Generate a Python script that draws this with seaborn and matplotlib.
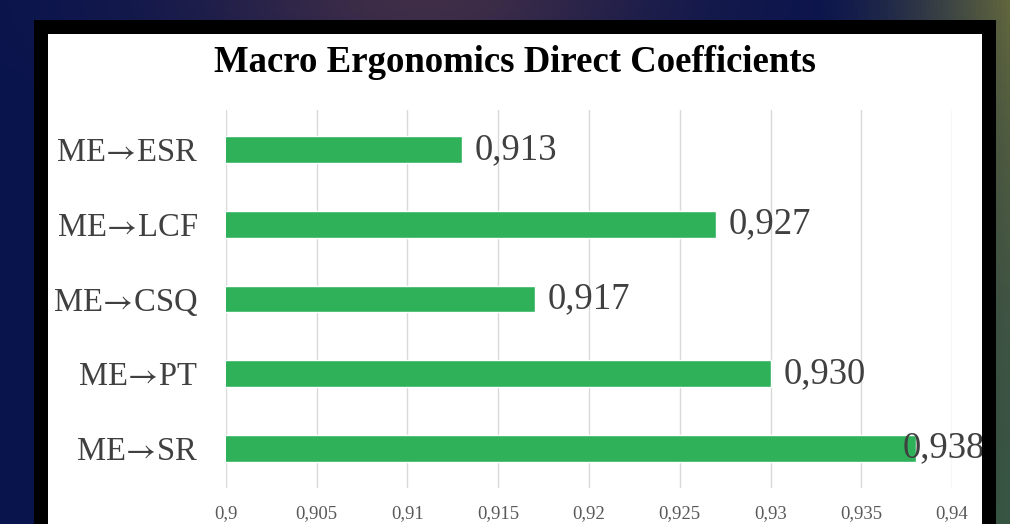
import numpy as np
import pandas as pd
import matplotlib
matplotlib.use("Agg")
import matplotlib.pyplot as plt
from matplotlib.patches import Rectangle
from matplotlib.ticker import FuncFormatter, MultipleLocator
from matplotlib.transforms import Bbox, TransformedBbox
import seaborn as sns

# Direct path coefficients of macro ergonomics
paths = ["ME→ESR", "ME→LCF", "ME→CSQ", "ME→PT", "ME→SR"]
coefficients = [0.913, 0.927, 0.917, 0.930, 0.938]
value_labels = ["0,913", "0,927", "0,917", "0,930", "0,938"]

sns.set_theme(style="white")
plt.rcParams["font.family"] = ["Liberation Serif", "DejaVu Serif"]
plt.rcParams["mathtext.fontset"] = "stix"

W, H = 1010, 524
fig = plt.figure(figsize=(W / 100, H / 100), dpi=100)

# Dark backdrop with a soft colour wash
bg = fig.add_axes([0, 0, 1, 1])
bg.set_axis_off()
yy, xx = np.mgrid[0:1:120j, 0:1:240j]
navy = np.array([0.04, 0.08, 0.30])
plum = np.array([0.25, 0.18, 0.28])
olive = np.array([0.38, 0.40, 0.24])
green = np.array([0.22, 0.36, 0.26])
w_plum = np.exp(-((xx - 0.42) ** 2) / 0.05 - (yy ** 2) / 0.02)
w_olive = np.clip((xx - 0.80) / 0.2, 0, 1) ** 1.5 * (1 - 0.5 * yy)
w_green = np.clip((xx - 0.86) / 0.14, 0, 1) * yy
img = navy[None, None, :] * np.ones_like(xx)[..., None]
img = img * (1 - w_plum[..., None]) + plum * w_plum[..., None]
img = img * (1 - w_olive[..., None]) + olive * w_olive[..., None]
img = img * (1 - 0.8 * w_green[..., None]) + green * 0.8 * w_green[..., None]
bg.imshow(np.clip(img, 0, 1), extent=[0, 1, 0, 1], aspect="auto", origin="upper")
bg.set_xlim(0, 1)
bg.set_ylim(0, 1)

# Black frame and white chart area
bg.add_patch(Rectangle((34 / W, 0), (996 - 34) / W, 1 - 20 / H,
                       facecolor="black", edgecolor="none", zorder=2))
bg.add_patch(Rectangle((48 / W, 0), (982 - 48) / W, 1 - 34 / H,
                       facecolor="white", edgecolor="none", zorder=3))
white_area = TransformedBbox(Bbox([[48 / W, 0], [982 / W, 1 - 34 / H]]),
                             fig.transFigure)

fig.text(515 / W, 1 - 62 / H, "Macro Ergonomics Direct Coefficients",
         ha="center", va="center", fontsize=26.5, fontweight="bold",
         color="black", family=["Liberation Serif"])

# Bar chart
left, right = 226 / W, 952 / W
top, bottom = 1 - 110 / H, 1 - 488 / H
ax = fig.add_axes([left, bottom, right - left, top - bottom])
ax.set_facecolor("none")

df = pd.DataFrame({"path": paths, "coef": coefficients})
sns.barplot(data=df, y="path", x="coef", orient="h", color="#2fb15a",
            saturation=1, width=0.36, ax=ax, zorder=3)

ax.set_xlim(0.9, 0.94)
ax.set_ylim(4.53, -0.53)
ax.xaxis.set_major_locator(MultipleLocator(0.005))
ax.xaxis.set_major_formatter(
    FuncFormatter(lambda v, p: f"{v:.3f}".rstrip("0").replace(".", ",")))
ax.grid(axis="x", color="#d9d9d9", linewidth=1, zorder=0)
ax.grid(axis="y", visible=False)
for s in ax.spines.values():
    s.set_visible(False)
ax.tick_params(axis="x", length=0, pad=12, labelsize=13.5, labelcolor="#595959")
ax.tick_params(axis="y", length=0, pad=20, labelsize=23.5, labelcolor="#404040")
# Long serif arrow, set close between the construct names
ax.set_yticks(range(len(paths)))
ax.set_yticklabels([p.replace("→", r"$\!\rightarrow\!$") for p in paths])
ax.set_xlabel("")
ax.set_ylabel("")

# Value labels sit right of each bar, pulled back when near the edge
label_limit = 0.9373
for i, (v, lab) in enumerate(zip(coefficients, value_labels)):
    t = ax.text(min(v + 0.0007, label_limit), i, lab, ha="left", va="center",
                fontsize=26.5, color="#404040", zorder=4, clip_on=True)
    t.set_clip_box(white_area)

fig.savefig("out.png", dpi=100)
